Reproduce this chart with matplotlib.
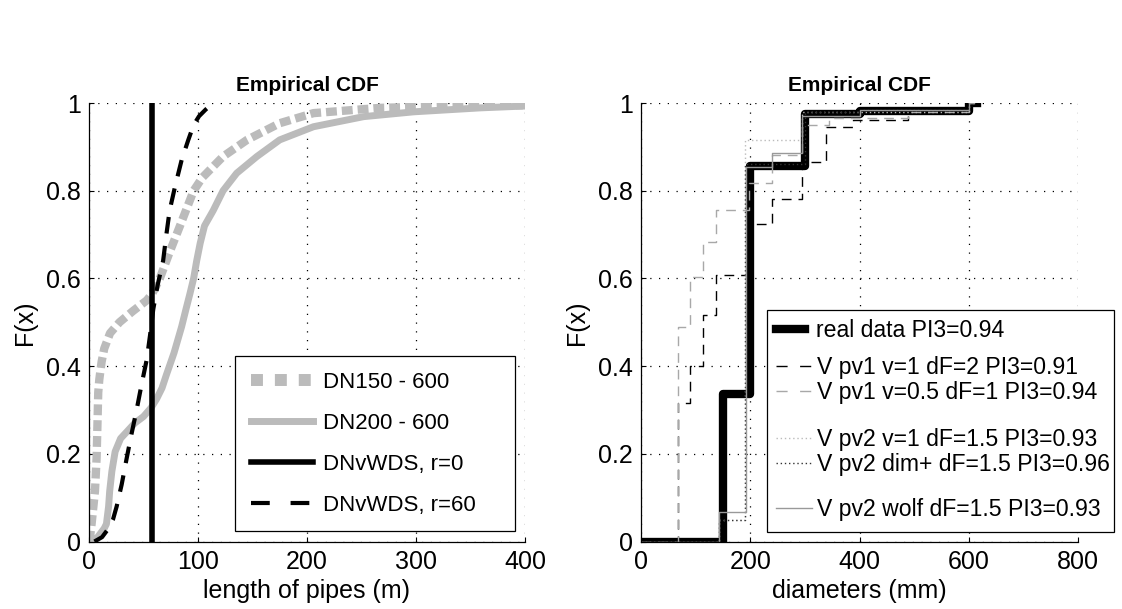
import matplotlib
matplotlib.use("Agg")
import matplotlib.pyplot as plt
from matplotlib.lines import Line2D
from matplotlib.legend import Legend
from matplotlib.patches import Rectangle
from matplotlib.ticker import FuncFormatter

plt.rcParams['font.family'] = ['Liberation Sans', 'DejaVu Sans']

# --- left panel: length of pipes (m) ---
dn150_x = [0.5, 2.4, 5.5, 7, 8.5, 9.5, 11.6, 14, 19.3, 28, 40, 53, 58, 65, 74, 83.5,
           96, 104, 123, 145, 175, 206, 267, 328, 398]
dn150_y = [0.0, 0.04, 0.115, 0.19, 0.34, 0.37, 0.41, 0.44, 0.475, 0.50, 0.525, 0.55,
           0.565, 0.60, 0.66, 0.72, 0.80, 0.83, 0.878, 0.916, 0.954, 0.977, 0.989,
           0.993, 0.995]

dn200_x = [0.5, 8, 14, 16, 18, 19, 21, 24, 29, 34.6, 42, 50, 57, 62, 67, 71, 78, 85,
           89, 92.6, 96, 98.8, 102, 106, 114, 123, 135.5, 154, 175, 206, 252, 298,
           359, 398]
dn200_y = [0.0, 0.01, 0.03, 0.04, 0.08, 0.115, 0.16, 0.205, 0.235, 0.25, 0.27, 0.285,
           0.305, 0.325, 0.35, 0.38, 0.43, 0.49, 0.53, 0.565, 0.60, 0.64, 0.68, 0.72,
           0.755, 0.80, 0.84, 0.878, 0.916, 0.946, 0.969, 0.98, 0.989, 0.993]

r0_x = [58, 58]
r0_y = [0, 1]

r60_x = [5, 12, 18, 22, 25.4, 30, 34.6, 39, 43.7, 48, 53, 56, 59, 63, 68, 71, 74, 79,
         85, 91, 96, 101, 107, 114]
r60_y = [0.0, 0.01, 0.03, 0.05, 0.08, 0.13, 0.19, 0.245, 0.30, 0.355, 0.415, 0.47,
         0.53, 0.585, 0.64, 0.70, 0.755, 0.81, 0.87, 0.915, 0.95, 0.97, 0.985, 1.0]

left_labels = ['DN150 - 600', 'DN200 - 600', 'DNvWDS, r=0', 'DNvWDS, r=60']

# --- right panel: diameters (mm) ---
real_x = [0, 150, 200, 300, 400, 600, 615]
real_y = [0, 0.337, 0.856, 0.974, 0.982, 1.0, 1.0]

pv1a_x = [0, 68, 90, 114, 138, 200, 239, 294, 338, 388, 489, 600, 610]
pv1a_y = [0, 0.315, 0.40, 0.516, 0.607, 0.725, 0.782, 0.866, 0.946, 0.961, 0.984, 1.0, 1.0]

pv1b_x = [0, 68, 90, 114, 138, 197, 239, 294, 345, 489, 600, 610]
pv1b_y = [0, 0.489, 0.603, 0.683, 0.756, 0.817, 0.881, 0.95, 0.965, 0.98, 1.0, 1.0]

pv2a_x = [0, 142, 190, 294, 600, 610]
pv2a_y = [0, 0.05, 0.915, 0.98, 1.0, 1.0]

pv2b_x = [0, 142, 190, 300, 400, 600, 610]
pv2b_y = [0, 0.048, 0.86, 0.98, 0.985, 1.0, 1.0]

wolf_x = [0, 142, 192, 239, 294, 400, 600, 610]
wolf_y = [0, 0.067, 0.855, 0.885, 0.97, 0.985, 1.0, 1.0]

right_labels = ['real data PI3=0.94', 'V pv1 v=1 dF=2 PI3=0.91',
                'V pv1 v=0.5 dF=1 PI3=0.94', 'V pv2 v=1 dF=1.5 PI3=0.93',
                'V pv2 dim+ dF=1.5 PI3=0.96', 'V pv2 wolf dF=1.5 PI3=0.93']

gris = '#bbbbbb'

fig = plt.figure(figsize=(11.22, 6.09), dpi=100)
ax1 = fig.add_axes([0.0793, 0.1108, 0.3886, 0.7200])
ax2 = fig.add_axes([0.5713, 0.1108, 0.3895, 0.7200])


def estilo_ejes(ax, xmax, xticks):
    ax.set_xlim(0, xmax)
    ax.set_ylim(0, 1)
    ax.set_xticks(xticks)
    ax.set_yticks([0, 0.2, 0.4, 0.6, 0.8, 1.0])
    ax.yaxis.set_major_formatter(FuncFormatter(lambda v, p: f"{v:g}"))
    ax.spines['top'].set_visible(False)
    ax.spines['right'].set_visible(False)
    for s in ('left', 'bottom'):
        ax.spines[s].set_linewidth(0.9)
    ax.tick_params(direction='in', length=3.6, width=0.8, labelsize=18, pad=6)
    ax.grid(True, color='black', linestyle=(0, (1, 6)), linewidth=0.9)
    ax.set_axisbelow(True)
    ax.set_title('Empirical CDF', fontsize=15, fontweight='bold', pad=9)
    ax.set_ylabel('F(x)', fontsize=18, labelpad=6)


# left
ax1.plot(dn150_x, dn150_y, color=gris, lw=6, linestyle=(0, (1.3, 0.6)),
         dash_capstyle='butt')
ax1.plot(dn200_x, dn200_y, color=gris, lw=5)
ax1.plot(r0_x, r0_y, color='black', lw=4)
ax1.plot(r60_x, r60_y, color='black', lw=3, linestyle=(0, (4, 3)))
estilo_ejes(ax1, 400, [0, 100, 200, 300, 400])
ax1.set_xlabel('length of pipes (m)', fontsize=18, labelpad=4)

h_izq = [
    Line2D([], [], color=gris, lw=8.6, linestyle=(0, (1, 1)), dash_capstyle='butt'),
    Line2D([], [], color=gris, lw=5),
    Line2D([], [], color='black', lw=4),
    Line2D([], [], color='black', lw=3, linestyle=(0, (4.5, 5))),
]
leg = ax1.legend(h_izq, left_labels, loc='lower left', mode='expand',
                 bbox_to_anchor=(0.335, 0.023, 0.642, 0.43), fontsize=16,
                 handlelength=2.8, handletextpad=0.45, labelspacing=0.9,
                 borderpad=0.7, borderaxespad=0, fancybox=False, framealpha=1)
leg.get_frame().set_edgecolor('black')
leg.get_frame().set_linewidth(0.9)

# right
ax2.step(real_x, real_y, where='post', color='black', lw=6)
ax2.step(pv1a_x, pv1a_y, where='post', color='black', lw=1, linestyle=(0, (7, 5)))
ax2.step(pv1b_x, pv1b_y, where='post', color='#a8a8a8', lw=1, linestyle=(0, (7, 5)))
ax2.step(pv2a_x, pv2a_y, where='post', color='#bbbbbb', lw=1, linestyle=(0, (1, 2)))
ax2.step(pv2b_x, pv2b_y, where='post', color='#333333', lw=1, linestyle=(0, (1, 2)))
ax2.step(wolf_x, wolf_y, where='post', color='#999999', lw=1)
estilo_ejes(ax2, 800, [0, 200, 400, 600, 800])
ax2.set_xlabel('diameters (mm)', fontsize=18, labelpad=4)

caja = Rectangle((0.2877, 0.0212), 0.795, 0.506, transform=ax2.transAxes,
                 facecolor='white', edgecolor='black', lw=0.9, clip_on=False,
                 zorder=4)
ax2.add_patch(caja)

h_der = [
    Line2D([], [], color='black', lw=6),
    Line2D([], [], color='black', lw=1, linestyle=(0, (8, 9))),
    Line2D([], [], color='#a8a8a8', lw=1, linestyle=(0, (8, 9))),
    Line2D([], [], color='#bbbbbb', lw=1, linestyle=(0, (1, 2))),
    Line2D([], [], color='#333333', lw=1, linestyle=(0, (1, 2))),
    Line2D([], [], color='#999999', lw=1),
]
y_filas = [0.4817, 0.397, 0.340, 0.233, 0.176, 0.073]
for i, (h, lab, yc) in enumerate(zip(h_der, right_labels, y_filas)):
    hl, tp = (1.25, 0.5) if i == 0 else (1.55, 0.22)
    lg = Legend(ax2, [h], [lab], loc='center left', bbox_to_anchor=(0.309, yc),
                bbox_transform=ax2.transAxes, frameon=False, fontsize=16.6,
                handlelength=hl, handletextpad=tp, borderpad=0,
                borderaxespad=0)
    lg.set_zorder(5)
    ax2.add_artist(lg)

fig.savefig('out.png', dpi=100)
